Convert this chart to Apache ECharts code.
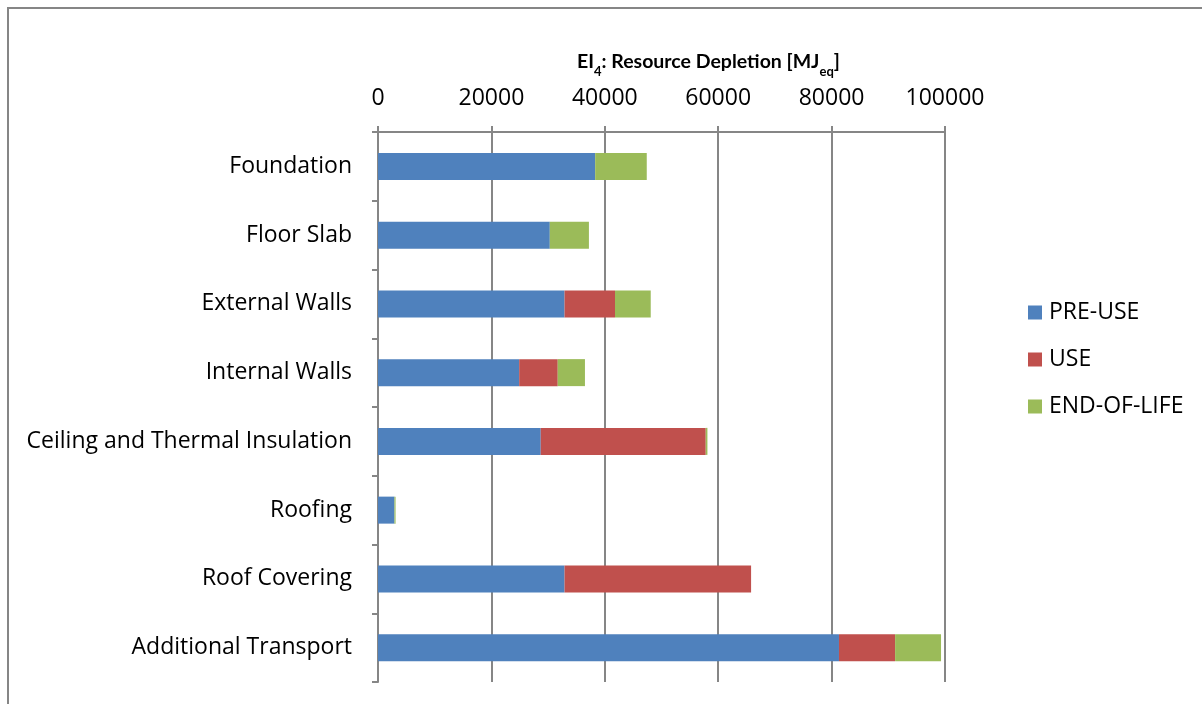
<!DOCTYPE html>
<html>
<head>
<meta charset="utf-8">
<script src="https://cdn.jsdelivr.net/npm/echarts@6/dist/echarts.min.js"></script>
<style>
html,body{margin:0;padding:0;background:#fff;}
#chart{width:1202px;height:704px;}
</style>
</head>
<body>
<div id="chart"></div>
<script>
const categories = ['Foundation', 'Floor Slab', 'External Walls', 'Internal Walls', 'Ceiling and Thermal Insulation', 'Roofing', 'Roof Covering', 'Additional Transport'];
const preUse = [38300, 30300, 32900, 24900, 28700, 2900, 32900, 81300];
const use = [0, 0, 8900, 6800, 29100, 0, 32900, 9900];
const endOfLife = [9100, 6900, 6300, 4800, 300, 200, 0, 8100];
const seriesNames = ['PRE-USE', 'USE', 'END-OF-LIFE'];
const xTicks = { min: 0, max: 100000, interval: 20000 };

const FONT = 'Open Sans';
const chart = echarts.init(document.getElementById('chart'), null, { renderer: 'canvas' });
const gray = '#868686';
const mk = (name, data, color) => ({
  name, type: 'bar', stack: 'total', data, barWidth: 27,
  itemStyle: { color }, emphasis: { disabled: true }
});
chart.setOption({
  animation: false,
  backgroundColor: '#ffffff',
  graphic: [{
    type: 'rect', shape: { x: 8, y: 8, width: 1300, height: 800 },
    style: { fill: 'none', stroke: gray, lineWidth: 2 }, silent: true, z: -10
  }],
  title: {
    text: '{a|EI}{s|4}{a|: Resource Depletion [MJ}{s|eq}{a|]}',
    left: 572, top: 41,
    textStyle: {
      rich: {
        a: { fontFamily: 'Lato', fontWeight: 'bold', fontSize: 19.5, color: '#000', lineHeight: 26, verticalAlign: 'bottom' },
        s: { fontFamily: 'Lato', fontWeight: 'bold', fontSize: 13, color: '#000', lineHeight: 26, verticalAlign: 'bottom', padding: [0, 0, -6, 0] }
      }
    }
  },
  legend: {
    orient: 'vertical', left: 1023, top: 296,
    itemWidth: 14, itemHeight: 14, itemGap: 24, icon: 'rect',
    textStyle: { fontFamily: FONT, fontSize: 23, color: '#000', padding: [0, 0, 0, 2] },
    data: seriesNames
  },
  grid: { left: 378, top: 132, width: 567, height: 550, containLabel: false },
  xAxis: {
    type: 'value', position: 'top', min: xTicks.min, max: xTicks.max, interval: xTicks.interval,
    axisLine: { show: true, lineStyle: { color: gray, width: 2 } },
    axisTick: { show: true, length: 6, lineStyle: { color: gray, width: 2 } },
    splitLine: { show: true, lineStyle: { color: gray, width: 2 } },
    axisLabel: { fontFamily: FONT, fontSize: 23, color: '#000', margin: 22, formatter: v => String(v) }
  },
  yAxis: {
    type: 'category', inverse: true, data: categories,
    axisLine: { show: true, lineStyle: { color: gray, width: 2 } },
    axisTick: { show: true, length: 6, lineStyle: { color: gray, width: 2 } },
    axisLabel: { fontFamily: FONT, fontSize: 23, color: '#000', margin: 26 }
  },
  series: [
    mk(seriesNames[0], preUse, '#4F81BD'),
    mk(seriesNames[1], use, '#C0504D'),
    mk(seriesNames[2], endOfLife, '#9BBB59')
  ]
});
</script>
</body>
</html>
